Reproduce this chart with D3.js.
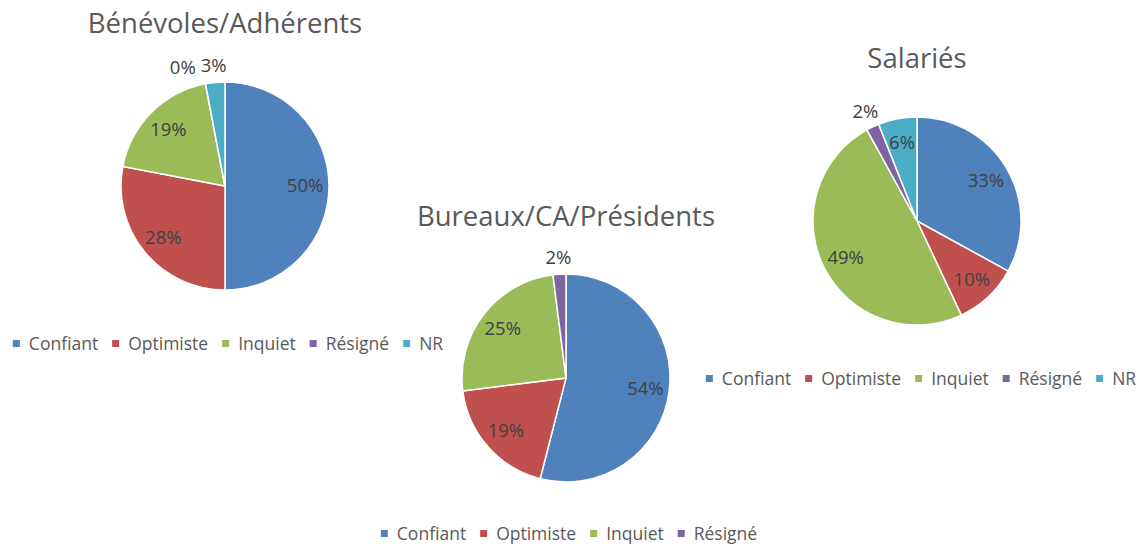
<!DOCTYPE html>
<html>
<head>
<meta charset="utf-8">
<script src="https://cdn.jsdelivr.net/npm/d3@7"></script>
<style>
  body { margin: 0; background: #fff; }
  text { font-family: "Open Sans", sans-serif; }
</style>
</head>
<body>
<div id="chart"></div>
<script>
// Données
const categories = ["Confiant", "Optimiste", "Inquiet", "Résigné", "NR"];
const colors = ["#4F81BD", "#C0504D", "#9BBB59", "#8064A2", "#4BACC6"];

const titles = ["Bénévoles/Adhérents", "Bureaux/CA/Présidents", "Salariés"];
const benevoles = [50, 28, 19, 0, 3];
const bureaux = [54, 19, 25, 2];
const salaries = [33, 10, 49, 2, 6];

// Mise en page des trois camemberts
const charts = [
  { title: titles[0], values: benevoles, cx: 225, cy: 186, titleY: 33, legendX: 228, legendY: 344 },
  { title: titles[1], values: bureaux, cx: 566, cy: 378, titleY: 226, legendX: 569, legendY: 534 },
  { title: titles[2], values: salaries, cx: 917, cy: 221, titleY: 68, legendX: 921, legendY: 379 }
];

const radius = 104;
const width = 1145, height = 546;

const svg = d3.select("#chart")
  .append("svg")
    .attr("width", width)
    .attr("height", height)
    .style("display", "block");

svg.append("rect")
  .attr("width", width)
  .attr("height", height)
  .attr("fill", "#fff");

const color = d3.scaleOrdinal().domain(categories).range(colors);

const pie = d3.pie().sort(null).value(d => d.value);
const arc = d3.arc().innerRadius(0).outerRadius(radius);
const labelArc = d3.arc().innerRadius(radius * 0.77).outerRadius(radius * 0.77);
const outerArc = d3.arc().innerRadius(radius + 17).outerRadius(radius + 17);

charts.forEach(function(c) {
  const data = c.values.map((v, i) => ({ name: categories[i], value: v }));
  const arcs = pie(data);

  // Titre
  svg.append("text")
    .attr("x", c.cx)
    .attr("y", c.titleY)
    .attr("text-anchor", "middle")
    .style("font-size", "27.5px")
    .style("fill", "#595959")
    .text(c.title);

  const g = svg.append("g")
    .attr("transform", "translate(" + c.cx + "," + c.cy + ")");

  // Parts
  g.selectAll("path")
    .data(arcs)
    .enter().append("path")
      .attr("d", arc)
      .attr("fill", d => color(d.data.name))
      .attr("stroke", "#fff")
      .attr("stroke-width", 1.5);

  // Etiquettes : dedans si la part est assez grande, dehors sinon
  const labels = g.selectAll(".label")
    .data(arcs)
    .enter().append("text")
      .attr("class", "label")
      .attr("text-anchor", "middle")
      .attr("dy", "0.35em")
      .style("font-size", "18.5px")
      .style("fill", "#404040")
      .text(d => d.data.value + "%")
      .each(function(d) {
        const p = d.data.value < 5 ? outerArc.centroid(d) : labelArc.centroid(d);
        d.outside = d.data.value < 5;
        d.lx = p[0];
        d.ly = p[1];
        d.w = this.getComputedTextLength();
      });

  // Eviter le chevauchement des étiquettes extérieures
  const outside = arcs.filter(d => d.outside).sort((a, b) => a.lx - b.lx);
  for (let i = outside.length - 2; i >= 0; i--) {
    const a = outside[i], b = outside[i + 1];
    const overlap = (a.lx + a.w / 2 + 5) - (b.lx - b.w / 2);
    if (overlap > 0 && Math.abs(a.ly - b.ly) < 18) a.lx -= overlap;
  }

  labels
    .attr("x", d => d.lx)
    .attr("y", d => d.ly);

  // Légende
  const legend = svg.append("g");
  const items = legend.selectAll("g")
    .data(data)
    .enter().append("g");

  items.append("rect")
    .attr("width", 7)
    .attr("height", 7)
    .attr("y", -4)
    .attr("fill", d => color(d.name));

  items.append("text")
    .attr("x", 16)
    .attr("dy", "0.35em")
    .style("font-size", "17.5px")
    .style("fill", "#595959")
    .text(d => d.name);

  let x = 0;
  items.each(function() {
    const w = d3.select(this).select("text").node().getComputedTextLength();
    d3.select(this).attr("transform", "translate(" + x + ",0)");
    x += 16 + w + 14;
  });
  const total = x - 14;
  legend.attr("transform", "translate(" + (c.legendX - total / 2) + "," + c.legendY + ")");
});
</script>
</body>
</html>
